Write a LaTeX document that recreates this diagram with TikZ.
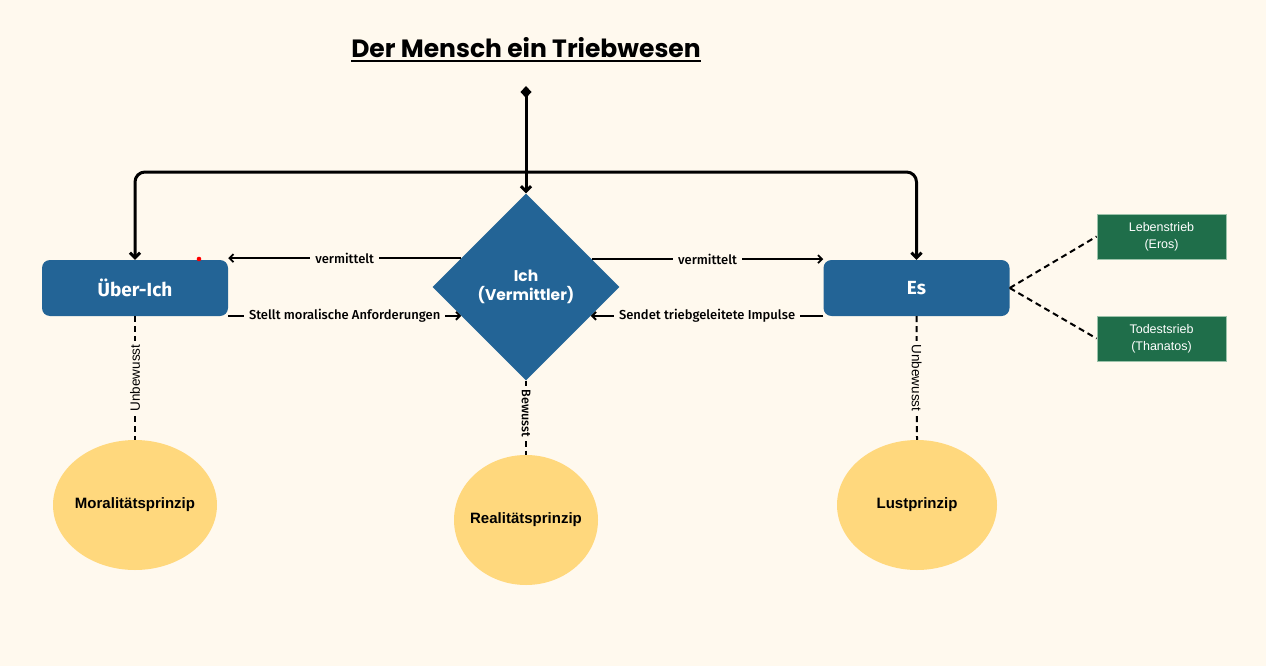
\documentclass[tikz,border=0pt]{standalone}
\usepackage{fontspec}
\setmainfont{Liberation Sans}
\newfontfamily\titlefont{Poppins}
\newfontfamily\firafont{Fira Sans}
\newfontfamily\firamed{Fira Sans Medium}
\usetikzlibrary{arrows.meta,shapes.geometric,calc}
\definecolor{bg}{HTML}{FFF9EE}
\definecolor{boxblue}{HTML}{236496}
\definecolor{ellyellow}{HTML}{FFD87D}
\definecolor{boxgreen}{HTML}{1F6E4A}
\definecolor{greenedge}{HTML}{9CC3AA}
\tikzset{
  bluebox/.style={rectangle, rounded corners=8pt, fill=boxblue, minimum width=186pt, minimum height=56pt, inner sep=0pt, text=white, font=\firafont\bfseries\fontsize{19}{22}\selectfont},
  ichbox/.style={diamond, fill=boxblue, minimum width=187pt, minimum height=187pt, inner sep=0pt, text=white, align=center, font=\titlefont\bfseries\fontsize{15.5}{19}\selectfont},
  prinzip/.style={ellipse, fill=ellyellow, inner sep=-30pt, font=\bfseries\fontsize{15}{18}\selectfont},
  triebbox/.style={rectangle, fill=boxgreen, draw=greenedge, line width=0.8pt, minimum width=129pt, minimum height=45pt, inner sep=0pt, text=white, align=center, font=\fontsize{12.5}{17}\selectfont},
  mainline/.style={line width=3pt, line cap=round, rounded corners=10pt},
  mainarrow/.style={mainline, -{Straight Barb[length=5pt,width=10pt]}},
  labarrow/.style={line width=1.8pt, -{Straight Barb[length=4pt,width=8pt]}},
  dashline/.style={line width=2pt, dash pattern=on 6pt off 4pt},
  lab/.style={fill=bg, inner xsep=5pt, inner ysep=1pt, font=\firamed\fontsize{13}{16}\selectfont},
  vlab/.style={fill=bg, inner xsep=4pt, inner ysep=1pt, font=\fontsize{13.5}{16}\selectfont},
}
\begin{document}
\begin{tikzpicture}[x=1pt,y=-1pt]
\useasboundingbox (0,0) rectangle (1266,666);
\fill[bg] (0,0) rectangle (1266,666);

% title
\node[inner sep=0pt, anchor=base, font=\titlefont\bfseries\fontsize{25}{30}\selectfont] (title) at (526,58) {Der Mensch ein Triebwesen};
\draw[line width=2pt] ($(title.base west)+(0,3.5)$) -- ($(title.base east)+(0,3.5)$);

% nodes
\node[bluebox] (uich) at (135,288) {Über-Ich};
\node[bluebox] (es) at (916.5,288) {Es};
\node[ichbox] (ich) at (526,287) {Ich\\(Vermittler)};

\node[prinzip, minimum width=164pt, minimum height=130pt] (moral) at (135,505) {Moralitätsprinzip};
\node[prinzip, minimum width=144pt, minimum height=130pt] (real) at (526,520) {Realitätsprinzip};
\node[prinzip, minimum width=160pt, minimum height=130pt] (lust) at (917,505) {Lustprinzip};

\node[triebbox] (leben) at (1161.5,236.5) {Lebenstrieb\\(Eros)};
\node[triebbox] (tod) at (1161.5,338.5) {Todestsrieb\\(Thanatos)};

% top connector
\coordinate (src) at (526,86);
\coordinate (jn) at (526,172);
\draw[mainline, {Diamond[length=12pt,width=11pt]}-] (src) -- (jn);
\draw[mainarrow] (jn) -- (ich.north);
\draw[mainarrow] (jn) -| (uich.north);
\draw[mainarrow] (jn) -| (es.north);

% horizontal labelled connectors
\draw[labarrow] (ich.156.7) -- node[lab] {vermittelt} (ich.156.7 -| uich.east);
\draw[labarrow] (ich.23.3) -- node[lab] {vermittelt} (ich.23.3 -| es.west);
\draw[labarrow] (ich.204 -| uich.east) -- node[lab] {Stellt moralische Anforderungen} (ich.204);
\draw[labarrow] (ich.336 -| es.west) -- node[lab] {Sendet triebgeleitete Impulse} (ich.336);

% vertical dashed connectors
\draw[dashline] (uich.south) -- node[vlab, rotate=90] {Unbewusst} (moral.north);
\draw[dashline] (ich.south) -- node[vlab, rotate=-90, pos=0.44, font=\firamed\fontsize{12.5}{16}\selectfont] {Bewusst} (real.north);
\draw[dashline] (es.south) -- node[vlab, rotate=-90] {Unbewusst} (lust.north);

% Es to drives
\draw[dashline] (es.east) -- (leben.west);
\draw[dashline] (es.east) -- (tod.west);

% small red dot
\fill[red] (199,259) circle (2.3pt);
\end{tikzpicture}
\end{document}
